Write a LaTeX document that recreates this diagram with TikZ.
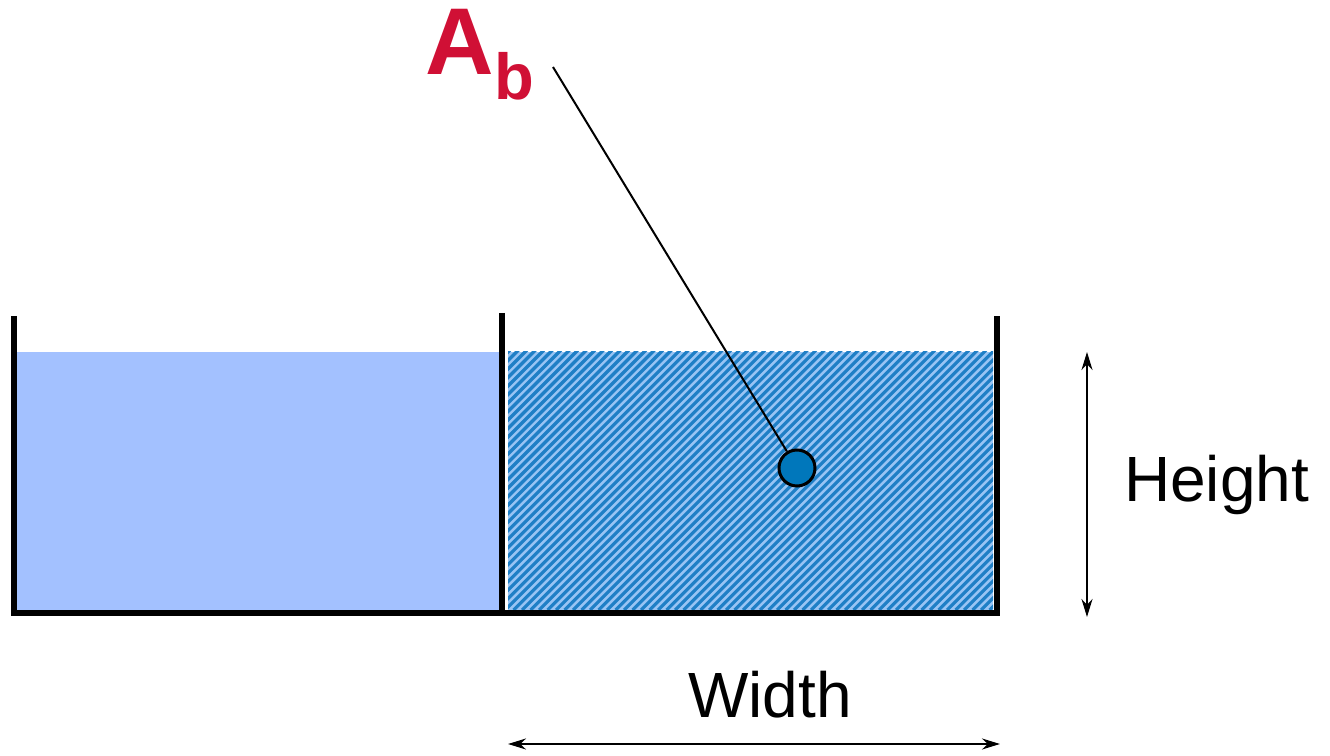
\documentclass[tikz,border=0pt]{standalone}
\usepackage{fontspec}
\setmainfont{Liberation Sans}
\usepackage{xcolor}
\usepackage{tikz}
\usetikzlibrary{arrows.meta,positioning,calc}
\definecolor{water}{HTML}{A3C1FF}
\definecolor{hatchlight}{HTML}{98C4F4}
\definecolor{hatchdark}{HTML}{1F7FC6}
\definecolor{dotblue}{HTML}{0077BB}
\definecolor{labelred}{HTML}{D01035}

\begin{document}
\begin{tikzpicture}[
  wall/.style={line width=0.055cm,black},
  lbl/.style={font=\fontsize{18.2}{21}\selectfont,inner sep=0pt},
  dim/.style={{Stealth[length=1.8mm,width=1.1mm]}-{Stealth[length=1.8mm,width=1.1mm]},line width=0.6pt},
  probe/.style={circle,draw=black,line width=0.03cm,fill=dotblue,minimum size=0.36cm,inner sep=0pt}]
\useasboundingbox (0,0) rectangle (13.3,7.56);
% water in both tanks
\fill[water] (0.16,1.46) rectangle (5.00,4.04);
\begin{scope}
  \clip (5.08,1.46) rectangle (9.93,4.04);
  \fill[hatchlight] (5.08,1.46) rectangle (9.93,4.04);
  \foreach \x in {0,0.085,...,7.6}
    \draw[hatchdark,line width=0.032cm] (2.5+\x,1.46) -- ++(2.6,2.6);
\end{scope}
% walls
\draw[wall] (0.14,4.40) -- (0.14,1.43) -- (9.97,1.43) -- (9.97,4.40);
\draw[wall] (5.02,4.43) -- (5.02,1.43);
% label and probe
\node[probe] (dot) at (7.97,2.88) {};
\node[anchor=base west,inner sep=0pt,text=labelred,font=\bfseries\fontsize{27}{30}\selectfont] (ab) at (4.25,6.81)
  {A\raisebox{-0.25cm}{\fontsize{18.5}{20}\selectfont b}};
\coordinate (tip) at (5.53,6.89);
\draw[line width=0.02cm] (tip) -- (dot);
% dimensions
\coordinate (htop) at (10.87,4.04);
\coordinate (hbot) at (10.87,1.39);
\draw[dim] (htop) -- (hbot);
\node[lbl] (height) at (12.165,2.71) {Height};
\coordinate (wleft) at (5.08,0.12);
\coordinate (wright) at (10.00,0.12);
\draw[dim] (wleft) -- (wright);
\node[lbl] (width) at (7.70,0.61) {Width};
\end{tikzpicture}
\end{document}
